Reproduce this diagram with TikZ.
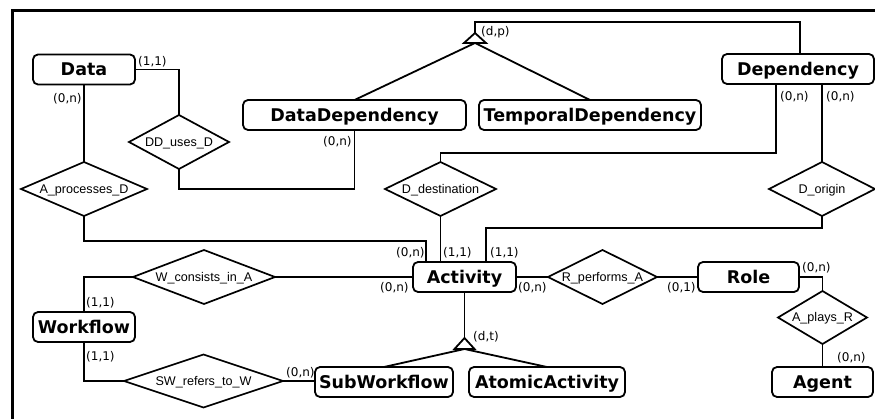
\documentclass[tikz,border=0pt]{standalone}
\usepackage{fontspec}
\setmainfont{DejaVu Sans}
\newfontfamily\relfont{Liberation Sans}
\usetikzlibrary{shapes.geometric}
\begin{document}
\begin{tikzpicture}[x=1pt,y=-1pt,
  entity/.style={draw, rectangle, rounded corners=5pt, line width=1.8pt,
    inner sep=0pt, outer sep=0pt, minimum height=30pt,
    font=\bfseries\fontsize{17.5}{17.5}\selectfont, text height=12.8pt, text depth=0pt},
  rel/.style={draw, diamond, line width=1.7pt, inner sep=0pt, outer sep=0pt,
    font=\relfont\fontsize{12.6}{12.6}\selectfont, text height=9pt, text depth=0pt},
  card/.style={anchor=west, inner sep=0pt, font=\fontsize{12}{12}\selectfont},
  link/.style={line width=1.8pt},
  frame/.style={line width=3pt}
]
\useasboundingbox (0,0) rectangle (875,419);

% outer frame (top and left edges)
\draw[frame] (875,11) -- (12.5,11) -- (12.5,419);

% entities
\node[entity, minimum width=102pt] (data)  at (84,69.5)   {Data};
\node[entity, minimum width=223pt] (ddep)  at (354.5,115) {DataDependency};
\node[entity, minimum width=222pt] (tdep)  at (590,115)   {TemporalDependency};
\node[entity, minimum width=152pt] (dep)   at (798,69)    {Dependency};
\node[entity, minimum width=103pt] (act)   at (464.5,277) {Activity};
\node[entity, minimum width=102pt] (wf)    at (84,327)    {Workflow};
\node[entity, minimum width=138pt] (subwf) at (384,382)   {SubWorkflow};
\node[entity, minimum width=156pt] (atom)  at (547,382)   {AtomicActivity};
\node[entity, minimum width=101pt] (role)  at (748.5,277) {Role};
\node[entity, minimum width=101pt] (agent) at (822.5,382) {Agent};

% relationships
\node[rel, minimum width=100pt, minimum height=54pt] (dduses) at (179,142)   {\makebox[0pt]{DD\_uses\_D}};
\node[rel, minimum width=126pt, minimum height=54pt] (apd)    at (84,189)    {\makebox[0pt]{A\_processes\_D}};
\node[rel, minimum width=111pt, minimum height=54pt] (ddest)  at (440.5,189) {\makebox[0pt]{D\_destination}};
\node[rel, minimum width=106pt, minimum height=54pt] (dorig)  at (822,189)   {\makebox[0pt]{D\_origin}};
\node[rel, minimum width=142pt, minimum height=54pt] (wcons)  at (204,277)   {\makebox[0pt]{W\_consists\_in\_A}};
\node[rel, minimum width=159pt, minimum height=53pt] (swref)  at (203.5,381) {\makebox[0pt]{SW\_refers\_to\_W}};
\node[rel, minimum width=109pt, minimum height=54pt] (rperf)  at (602.5,277) {\makebox[0pt]{R\_performs\_A}};
\node[rel, minimum width=89pt,  minimum height=53pt] (aplays) at (822.5,317.5) {\makebox[0pt]{A\_plays\_R}};

% generalisation points
\coordinate (isaAtop)  at (475,22);
\coordinate (isaAapex) at (475,33);
\coordinate (isaAbase) at (475,43);
\coordinate (isaBapex) at (464.5,338);
\coordinate (isaBbase) at (464.5,349);

% connectors
\draw[link] (data.east) -| (dduses.north);
\draw[link] (dduses.south) -- ++(0,20) -| (ddep.south);
\draw[link] (data.south) -- (apd.north);
\draw[link] (apd.south) -- ++(0,25) -| ([xshift=-38.5pt]act.north);
\draw[link] (ddest.north) -- ++(0,-9) -| ([xshift=-22pt]dep.south);
\draw[link] (ddest.south) -- (ddest.south |- act.north);
\draw[link] (dorig.north |- dep.south) -- (dorig.north);
\draw[link] (dorig.south) -- ++(0,12) -| ([xshift=21.5pt]act.north);
\draw[link] ([xshift=2pt]dep.north) |- (isaAtop) -- (isaAapex);
\draw[link] (isaAbase) -- (ddep.north);
\draw[link] (isaAbase) -- (tdep.north);
\draw[link, fill=white] (isaAapex) -- ++(-11,10) -- ++(22,0) -- cycle;

\draw[link] (act.west) -- (wcons.east);
\draw[link] (wcons.west) -| (wf.north);
\draw[link] (wf.south) |- (swref.west);
\draw[link] (swref.east) -- (swref.east -| subwf.west);
\draw[link] (act.south) -- (isaBapex);
\draw[link] (isaBbase) -- (subwf.north);
\draw[link] (isaBbase) -- (atom.north);
\draw[link, fill=white] (isaBapex) -- ++(-10,11) -- ++(20,0) -- cycle;

\draw[link] (act.east) -- (rperf.west);
\draw[link] (rperf.east) -- (role.west);
\draw[link] (role.east) -| (aplays.north);
\draw[link] (aplays.south) -- (agent.north);

% cardinalities
\node[card] (c1)  at (138,62)  {(1,1)};
\node[card] (c2)  at (53,99)   {(0,n)};
\node[card] (c3)  at (323,142) {(0,n)};
\node[card] (c4)  at (780,97)  {(0,n)};
\node[card] (c5)  at (826,97)  {(0,n)};
\node[card] (c6)  at (396,253) {(0,n)};
\node[card] (c7)  at (443,253) {(1,1)};
\node[card] (c8)  at (490,253) {(1,1)};
\node[card] (c9)  at (380,288) {(0,n)};
\node[card] (c10) at (518,288) {(0,n)};
\node[card] (c11) at (667,288) {(0,1)};
\node[card] (c12) at (802,268) {(0,n)};
\node[card] (c13) at (837,358) {(0,n)};
\node[card] (c14) at (86,303)  {(1,1)};
\node[card] (c15) at (86,357)  {(1,1)};
\node[card] (c16) at (286,373) {(0,n)};
\node[card] (c17) at (481,32)  {(d,p)};
\node[card] (c18) at (473,337) {(d,t)};
\end{tikzpicture}
\end{document}
